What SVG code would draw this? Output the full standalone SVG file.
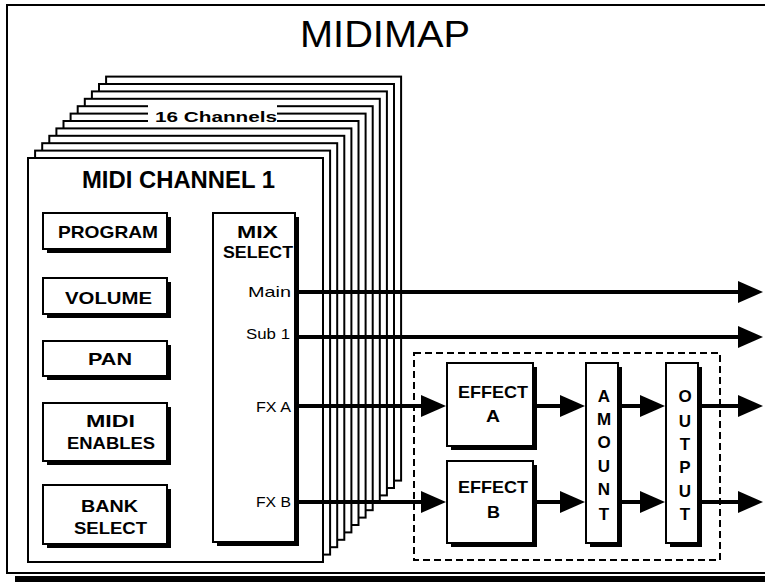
<svg xmlns="http://www.w3.org/2000/svg" width="765" height="582" viewBox="0 0 765 582">
<style>
.frame{fill:#fff;stroke:#000;stroke-width:2}
.ch{fill:#fff;stroke:#000;stroke-width:2}
.box{fill:#fff;stroke:#000;stroke-width:2}
.sh{fill:#000}
.t{font-family:"Liberation Sans",Arial,sans-serif;font-weight:bold;font-size:17px;fill:#000}
.r{font-weight:normal;font-size:15px}
.v{text-anchor:middle}
.wire{stroke:#000;stroke-width:4;fill:none;marker-end:url(#ah)}
.dash{fill:none;stroke:#000;stroke-width:2;stroke-dasharray:7 4}
</style>
<defs>
<marker id="ah" viewBox="0 0 25 22" markerWidth="25" markerHeight="22" markerUnits="userSpaceOnUse" refX="5" refY="11" orient="auto">
<path d="M0,0 L25,11 L0,22 z" fill="#000"/>
</marker>
</defs>
<rect width="765" height="582" fill="#fff"/>
<g id="frame">
<rect x="15" y="576" width="760" height="10" class="sh"/>
<rect x="7" y="5" width="770" height="568" class="frame"/>
<text x="300" y="47" class="t" style="font-weight:normal;font-size:37px" textLength="170" lengthAdjust="spacingAndGlyphs">MIDIMAP</text>
</g>
<g id="channel-stack">
<rect x="106.1" y="76.6" width="295" height="404" class="ch"/>
<rect x="99" y="84" width="295" height="404" class="ch"/>
<rect x="91.9" y="91.4" width="295" height="404" class="ch"/>
<rect x="84.8" y="98.8" width="295" height="404" class="ch"/>
<rect x="77.7" y="106.2" width="295" height="404" class="ch"/>
<rect x="70.6" y="113.6" width="295" height="404" class="ch"/>
<rect x="63.5" y="121" width="295" height="404" class="ch"/>
<rect x="56.4" y="128.4" width="295" height="404" class="ch"/>
<rect x="49.3" y="135.8" width="295" height="404" class="ch"/>
<rect x="42.2" y="143.2" width="295" height="404" class="ch"/>
<rect x="35.1" y="150.6" width="295" height="404" class="ch"/>
<rect x="148" y="102" width="129" height="24" fill="#fff"/>
<text x="155" y="122" class="t" style="font-size:15px" textLength="122" lengthAdjust="spacingAndGlyphs">16 Channels</text>
</g>
<g id="midi-channel-1">
<rect x="28" y="158" width="295" height="404" class="ch"/>
<text x="82" y="188" class="t" style="font-size:23px" textLength="193" lengthAdjust="spacingAndGlyphs">MIDI CHANNEL 1</text>
</g>
<g id="program">
<rect x="47" y="217" width="124" height="36" class="sh"/>
<rect x="43" y="213" width="124" height="36" class="box"/>
<text x="58" y="238" class="t" textLength="100" lengthAdjust="spacingAndGlyphs">PROGRAM</text>
</g>
<g id="volume">
<rect x="47" y="282" width="124" height="36" class="sh"/>
<rect x="43" y="278" width="124" height="36" class="box"/>
<text x="65" y="304" class="t" textLength="87" lengthAdjust="spacingAndGlyphs">VOLUME</text>
</g>
<g id="pan">
<rect x="47" y="345" width="124" height="35" class="sh"/>
<rect x="43" y="341" width="124" height="35" class="box"/>
<text x="88" y="365" class="t" textLength="44" lengthAdjust="spacingAndGlyphs">PAN</text>
</g>
<g id="midi-enables">
<rect x="47" y="407" width="124" height="58" class="sh"/>
<rect x="43" y="403" width="124" height="58" class="box"/>
<text x="86" y="427" class="t" textLength="49" lengthAdjust="spacingAndGlyphs">MIDI</text>
<text x="67" y="449" class="t" textLength="88" lengthAdjust="spacingAndGlyphs">ENABLES</text>
</g>
<g id="bank-select">
<rect x="47" y="489" width="124" height="59" class="sh"/>
<rect x="43" y="485" width="124" height="59" class="box"/>
<text x="81" y="512" class="t" textLength="57" lengthAdjust="spacingAndGlyphs">BANK</text>
<text x="74" y="534" class="t" textLength="73" lengthAdjust="spacingAndGlyphs">SELECT</text>
</g>
<g id="mix-select">
<rect x="217" y="217" width="82" height="329" class="sh"/>
<rect x="213" y="213" width="82" height="329" class="box"/>
<text x="237" y="238" class="t" textLength="41" lengthAdjust="spacingAndGlyphs">MIX</text>
<text x="223" y="258" class="t" textLength="70" lengthAdjust="spacingAndGlyphs">SELECT</text>
<text x="248" y="297" class="t r" textLength="43" lengthAdjust="spacingAndGlyphs">Main</text>
<text x="246" y="339" class="t r" textLength="44" lengthAdjust="spacingAndGlyphs">Sub 1</text>
<text x="256" y="412" class="t r" textLength="35" lengthAdjust="spacingAndGlyphs">FX A</text>
<text x="256" y="507" class="t r" textLength="35" lengthAdjust="spacingAndGlyphs">FX B</text>
</g>
<g id="effects-group">
<rect x="414" y="353" width="306" height="207" class="dash"/>
</g>
<g id="effect-a">
<rect x="451" y="367" width="86" height="83" class="sh"/>
<rect x="447" y="363" width="86" height="83" class="box"/>
<text x="458" y="398" class="t" textLength="70" lengthAdjust="spacingAndGlyphs">EFFECT</text>
<text x="486" y="422" class="t" textLength="14" lengthAdjust="spacingAndGlyphs">A</text>
</g>
<g id="effect-b">
<rect x="451" y="465" width="86" height="82" class="sh"/>
<rect x="447" y="461" width="86" height="82" class="box"/>
<text x="458" y="493" class="t" textLength="70" lengthAdjust="spacingAndGlyphs">EFFECT</text>
<text x="487" y="518" class="t" textLength="13" lengthAdjust="spacingAndGlyphs">B</text>
</g>
<g id="amount">
<rect x="590" y="367" width="32" height="180" class="sh"/>
<rect x="586" y="363" width="32" height="180" class="box"/>
<text class="t v" x="604" y="402">A</text>
<text class="t v" x="604" y="425">M</text>
<text class="t v" x="604" y="448">O</text>
<text class="t v" x="604" y="472">U</text>
<text class="t v" x="604" y="495">N</text>
<text class="t v" x="604" y="520">T</text>
</g>
<g id="output">
<rect x="670" y="367" width="32" height="180" class="sh"/>
<rect x="666" y="363" width="32" height="180" class="box"/>
<text class="t v" x="685" y="402">O</text>
<text class="t v" x="685" y="427">U</text>
<text class="t v" x="685" y="450">T</text>
<text class="t v" x="685" y="473">P</text>
<text class="t v" x="685" y="497">U</text>
<text class="t v" x="685" y="520">T</text>
</g>
<g id="connectors">
<line x1="297" y1="292" x2="743" y2="292" class="wire"/>
<line x1="297" y1="337" x2="743" y2="337" class="wire"/>
<line x1="297" y1="406" x2="426" y2="406" class="wire"/>
<line x1="297" y1="502" x2="426" y2="502" class="wire"/>
<line x1="537" y1="406" x2="565" y2="406" class="wire"/>
<line x1="537" y1="502" x2="565" y2="502" class="wire"/>
<line x1="622" y1="406" x2="645" y2="406" class="wire"/>
<line x1="622" y1="502" x2="645" y2="502" class="wire"/>
<line x1="702" y1="406" x2="743" y2="406" class="wire"/>
<line x1="702" y1="502" x2="743" y2="502" class="wire"/>
</g>
</svg>
